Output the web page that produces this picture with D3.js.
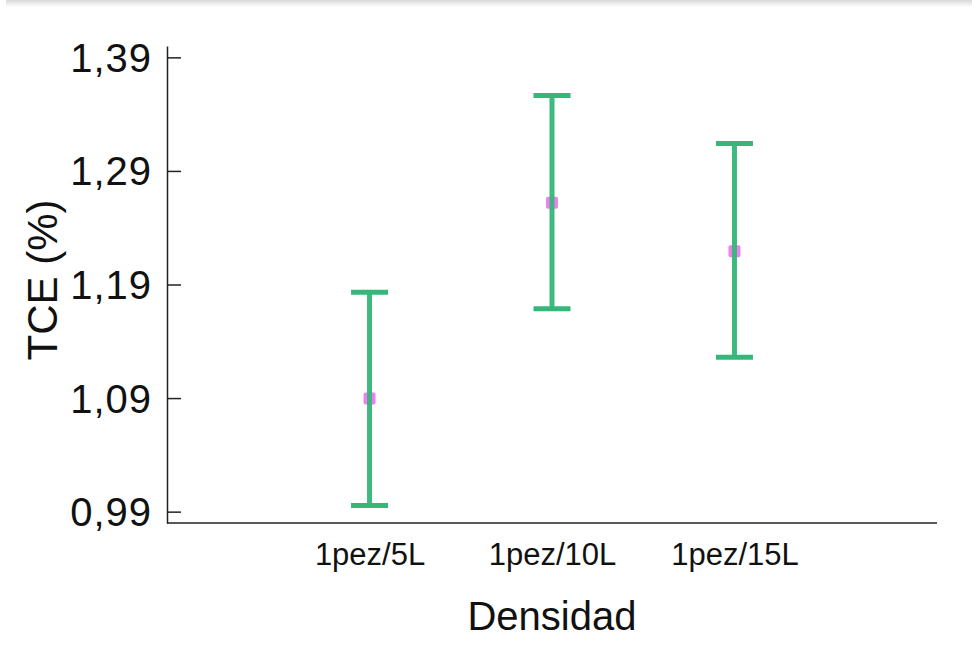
<!DOCTYPE html>
<html>
<head>
<meta charset="utf-8">
<script src="https://cdn.jsdelivr.net/npm/d3@7"></script>
<style>
  body { margin: 0; background: #fff; }
  svg { display: block; font-family: "Liberation Sans", Arial, sans-serif; }
</style>
</head>
<body>
<script>
// data
const categories = ['1pez/5L', '1pez/10L', '1pez/15L'];
const means = [1.0896, 1.262, 1.2193];
const upper = [1.1832, 1.3565, 1.3142];
const lower = [0.9953, 1.1686, 1.126];
const yTicks = [0.99, 1.09, 1.19, 1.29, 1.39];

const width = 972;
const height = 652;
const plotLeft = 167;
const plotRight = 937;
const plotTop = 46;
const plotBottom = 523;
const green = '#35b779';
const pink = '#f07ff0';

const svg = d3.select('body').append('svg')
  .attr('width', width)
  .attr('height', height);

// faint shadow strip along the top edge
const defs = svg.append('defs');
const grad = defs.append('linearGradient')
  .attr('id', 'shade').attr('x1', 0).attr('x2', 0).attr('y1', 0).attr('y2', 1);
grad.append('stop').attr('offset', '0%').attr('stop-color', '#d8d8d8');
grad.append('stop').attr('offset', '100%').attr('stop-color', '#fff');
svg.append('rect')
  .attr('x', 6).attr('y', 0).attr('width', width - 6).attr('height', 7)
  .attr('fill', 'url(#shade)');

const x = d3.scalePoint()
  .domain(categories)
  .range([plotLeft, plotRight])
  .padding(1.11);

const y = d3.scaleLinear()
  .domain([0.98, 1.40])
  .range([plotBottom, plotTop]);

const fmt = (d) => d3.format('.2f')(d).replace('.', ',');

// y axis, ticks pointing inward
const gy = svg.append('g')
  .attr('transform', `translate(${plotLeft},0)`)
  .call(d3.axisLeft(y).tickValues(yTicks).tickFormat(fmt)
    .tickSizeInner(-14).tickSizeOuter(0).tickPadding(15));
gy.select('.domain').attr('stroke', '#222').attr('stroke-width', 1.5);
gy.selectAll('.tick line').attr('stroke', '#222').attr('stroke-width', 1.5);
gy.selectAll('.tick text')
  .attr('font-size', 40)
  .attr('letter-spacing', 1)
  .attr('fill', '#111')
  .attr('font-family', '"Liberation Sans", Arial, sans-serif')
  .attr('dy', 14);

// x axis, labels only
const gx = svg.append('g')
  .attr('transform', `translate(0,${plotBottom})`)
  .call(d3.axisBottom(x).tickSize(0).tickPadding(0));
gx.select('.domain').attr('stroke', '#222').attr('stroke-width', 1.5)
  .attr('d', `M${plotLeft},0H${plotRight}`);
gx.selectAll('.tick text')
  .attr('font-size', 31)
  .attr('fill', '#111')
  .attr('font-family', '"Liberation Sans", Arial, sans-serif')
  .attr('dy', 42);

// error bars
const capW = 37;
const bars = svg.selectAll('g.bar')
  .data(categories)
  .join('g')
  .attr('class', 'bar');

bars.append('rect')
  .attr('x', (d) => x(d) - 6)
  .attr('y', (d, i) => y(means[i]) - 6)
  .attr('width', 12)
  .attr('height', 12)
  .attr('rx', 2)
  .attr('fill', pink);

bars.append('line')
  .attr('x1', (d) => x(d)).attr('x2', (d) => x(d))
  .attr('y1', (d, i) => y(upper[i]))
  .attr('y2', (d, i) => y(lower[i]))
  .attr('stroke', green)
  .attr('stroke-width', 5)
  .attr('opacity', 0.95);

bars.append('line')
  .attr('x1', (d) => x(d) - capW / 2).attr('x2', (d) => x(d) + capW / 2)
  .attr('y1', (d, i) => y(upper[i])).attr('y2', (d, i) => y(upper[i]))
  .attr('stroke', green).attr('stroke-width', 5);

bars.append('line')
  .attr('x1', (d) => x(d) - capW / 2).attr('x2', (d) => x(d) + capW / 2)
  .attr('y1', (d, i) => y(lower[i])).attr('y2', (d, i) => y(lower[i]))
  .attr('stroke', green).attr('stroke-width', 5);

// axis titles
svg.append('text')
  .attr('x', (plotLeft + plotRight) / 2)
  .attr('y', 630)
  .attr('text-anchor', 'middle')
  .attr('font-size', 40)
  .attr('fill', '#111')
  .text('Densidad');

svg.append('text')
  .attr('transform', 'translate(57,280) rotate(-90)')
  .attr('text-anchor', 'middle')
  .attr('font-size', 42)
  .attr('fill', '#111')
  .text('TCE (%)');
</script>
</body>
</html>
